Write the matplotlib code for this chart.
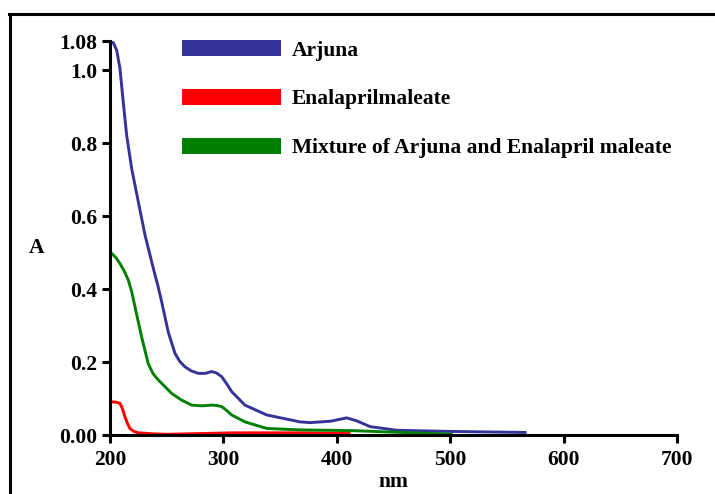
"""
UV spectra: Arjuna, Enalapril maleate and their mixture
"""
import matplotlib
matplotlib.use('Agg')
import matplotlib.pyplot as plt
from matplotlib.lines import Line2D

# wavelength (nm) / absorbance
arjuna_nm = [200, 203, 205.9, 208.8, 211.7, 214.7, 219.1, 225, 230.9, 238.2, 242.6,
             245.6, 251.4, 257.3, 261.5, 266.1, 271.5, 277.9, 284, 289.7, 294, 298.5,
             303, 307.3, 319, 338.2, 367.5, 376.4, 395, 408.7, 417.5, 429.3, 452.8,
             496.9, 566]
arjuna_abs = [1.082, 1.075, 1.055, 1.005, 0.913, 0.822, 0.731, 0.639, 0.548, 0.457, 0.405,
              0.365, 0.282, 0.224, 0.202, 0.187, 0.176, 0.169, 0.169, 0.174, 0.170, 0.160,
              0.140, 0.119, 0.082, 0.055, 0.036, 0.034, 0.038, 0.047, 0.039, 0.023, 0.013,
              0.010, 0.007]

enal_nm = [200, 201.5, 205, 208.8, 211, 213.2, 215.5, 217.6, 221, 225, 239.7, 250,
           308.7, 367.5, 410.8]
enal_abs = [0.091, 0.091, 0.090, 0.087, 0.072, 0.050, 0.031, 0.018, 0.010, 0.006, 0.003,
            0.002, 0.006, 0.006, 0.004]

mix_nm = [200, 201.5, 205, 208.8, 212.5, 216.1, 219, 222, 227.9, 233.7, 238, 242.6, 254.4,
          263, 272, 281, 289.7, 294, 298.5, 303, 307.3, 319, 338.2, 367.5, 414, 501]
mix_abs = [0.498, 0.498, 0.487, 0.470, 0.450, 0.425, 0.395, 0.352, 0.269, 0.196, 0.168,
           0.151, 0.114, 0.096, 0.082, 0.080, 0.082, 0.081, 0.078, 0.067, 0.055, 0.036,
           0.018, 0.014, 0.012, 0.002]

xticks = [200, 300, 400, 500, 600, 700]
yticks = [0.0, 0.2, 0.4, 0.6, 0.8, 1.0, 1.08]
ylabels = ['0.00', '0.2', '0.4', '0.6', '0.8', '1.0', '1.08']

plt.rcParams['font.family'] = ['Liberation Serif', 'DejaVu Serif']
plt.rcParams['font.weight'] = 'bold'

fs = 15.5

fig = plt.figure(figsize=(7.15, 4.94), dpi=100)
ax = fig.add_axes([0.1538, 0.1194, 0.7931, 0.7976])

ax.plot(arjuna_nm, arjuna_abs, color='#333399', linewidth=2.1, label='Arjuna')
ax.plot(enal_nm, enal_abs, color='#ff0000', linewidth=2.1, label='Enalaprilmaleate')
ax.plot(mix_nm, mix_abs, color='#008000', linewidth=2.1,
        label='Mixture of Arjuna and Enalapril maleate')

ax.set_xlim(200, 700)
ax.set_ylim(0, 1.08)
ax.set_xticks(xticks)
ax.set_yticks(yticks)
ax.set_yticklabels(ylabels)

for s in ['top', 'right']:
    ax.spines[s].set_visible(False)
for s in ['left', 'bottom']:
    ax.spines[s].set_linewidth(2.2)
ax.tick_params(axis='both', direction='out', length=6, width=2.2,
               labelsize=fs, pad=3)
ax.tick_params(axis='x', pad=5)
for lab in ax.get_xticklabels() + ax.get_yticklabels():
    lab.set_fontweight('bold')

ax.set_xlabel('nm', fontsize=fs, fontweight='bold', labelpad=1)
ax.set_ylabel('A', fontsize=fs, fontweight='bold', rotation=0, va='center')
ax.yaxis.set_label_coords(-0.129, 0.475)

leg = ax.legend(loc='upper left', bbox_to_anchor=(0.0926, 1.05), frameon=False,
                handlelength=4.6, handletextpad=0.5, labelspacing=1.33,
                prop={'size': fs, 'weight': 'bold'})
for h in leg.get_lines():
    h.set_linewidth(11.5)
    h.set_solid_capstyle('butt')

# outer frame (top and left edges)
fig.add_artist(Line2D([9 / 715, 1.0], [1 - 14 / 494, 1 - 14 / 494],
                      transform=fig.transFigure, color='black', linewidth=2.2))
fig.add_artist(Line2D([10 / 715, 10 / 715], [0, 1 - 14 / 494],
                      transform=fig.transFigure, color='black', linewidth=2.2))

plt.savefig('out.png', dpi=100)
plt.close()
